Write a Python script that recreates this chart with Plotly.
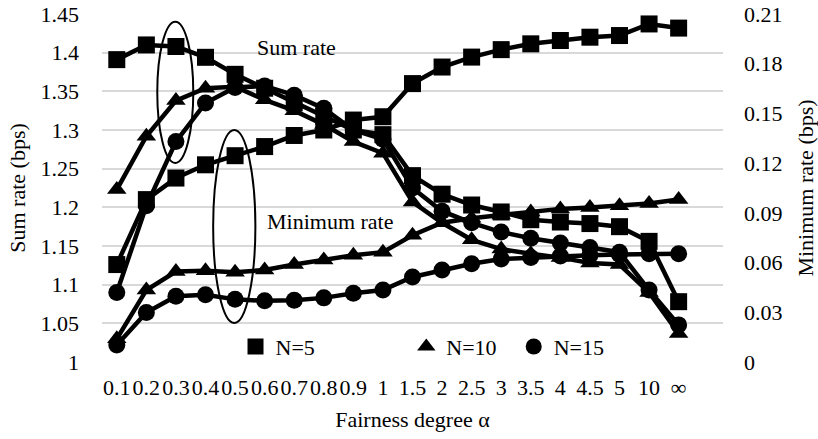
import plotly.graph_objects as go

# Fairness degree alpha (categorical x axis)
alpha_labels = ["0.1", "0.2", "0.3", "0.4", "0.5", "0.6", "0.7", "0.8", "0.9", "1",
                "1.5", "2", "2.5", "3", "3.5", "4", "4.5", "5", "10", "∞"]

# Sum rate (bps), left axis
sum_rate_n5 = [1.391, 1.410, 1.408, 1.394, 1.372, 1.354, 1.335, 1.318, 1.300, 1.294,
               1.241, 1.217, 1.203, 1.194, 1.184, 1.181, 1.179, 1.175, 1.156, 1.078]
sum_rate_n10 = [1.223, 1.292, 1.338, 1.354, 1.356, 1.339, 1.325, 1.307, 1.285, 1.270,
                1.207, 1.180, 1.158, 1.146, 1.140, 1.135, 1.128, 1.126, 1.090, 1.037]
sum_rate_n15 = [1.090, 1.202, 1.285, 1.335, 1.355, 1.357, 1.345, 1.328, 1.300, 1.288,
                1.225, 1.195, 1.180, 1.168, 1.160, 1.154, 1.148, 1.142, 1.093, 1.048]

# Minimum rate (bps), right axis
min_rate_n5 = [0.0588, 0.0980, 0.1110, 0.1190, 0.1245, 0.1300, 0.1367, 0.1400, 0.1460, 0.1480,
               0.1680, 0.1780, 0.1840, 0.1885, 0.1920, 0.1940, 0.1960, 0.1970, 0.2040, 0.2015]
min_rate_n10 = [0.0140, 0.0434, 0.0546, 0.0551, 0.0541, 0.0555, 0.0588, 0.0616, 0.0644, 0.0663,
                0.0765, 0.0840, 0.0868, 0.0887, 0.0905, 0.0924, 0.0933, 0.0943, 0.0957, 0.0980]
min_rate_n15 = [0.0103, 0.0299, 0.0397, 0.0406, 0.0378, 0.0369, 0.0373, 0.0387, 0.0415, 0.0434,
                0.0513, 0.0555, 0.0593, 0.0621, 0.0630, 0.0639, 0.0644, 0.0649, 0.0653, 0.0653]

left_ticks = [1, 1.05, 1.1, 1.15, 1.2, 1.25, 1.3, 1.35, 1.4, 1.45]
left_tick_text = ["1", "1.05", "1.1", "1.15", "1.2", "1.25", "1.3", "1.35", "1.4", "1.45"]
right_ticks = [0, 0.03, 0.06, 0.09, 0.12, 0.15, 0.18, 0.21]
right_tick_text = ["0", "0.03", "0.06", "0.09", "0.12", "0.15", "0.18", "0.21"]

FONT = "Liberation Serif"
FS = 22
LINE_W = 4.5
MSIZE = 17

series = [
    ("N=5", "square", sum_rate_n5, min_rate_n5),
    ("N=10", "triangle-up", sum_rate_n10, min_rate_n10),
    ("N=15", "circle", sum_rate_n15, min_rate_n15),
]

fig = go.Figure()

for name, sym, s_vals, m_vals in series:
    fig.add_trace(go.Scatter(
        x=alpha_labels, y=s_vals, mode="lines+markers", name=name,
        line=dict(color="black", width=LINE_W),
        marker=dict(symbol=sym, size=MSIZE, color="black"),
        showlegend=False, yaxis="y", cliponaxis=False,
    ))
for name, sym, s_vals, m_vals in series:
    fig.add_trace(go.Scatter(
        x=alpha_labels, y=m_vals, mode="lines+markers", name=name,
        line=dict(color="black", width=LINE_W),
        marker=dict(symbol=sym, size=MSIZE, color="black"),
        showlegend=False, yaxis="y2", cliponaxis=False,
    ))

# legend keys (marker only), one legend per entry
legend_names = ["legend", "legend2", "legend3"]
legend_x = [0.215, 0.49, 0.663]
for (name, sym, _, _), lg in zip(series, legend_names):
    fig.add_trace(go.Scatter(
        x=[None], y=[None], mode="markers", name=name,
        marker=dict(symbol=sym, size=MSIZE, color="black"),
        showlegend=True, legend=lg,
    ))

legend_common = dict(orientation="h", yanchor="middle", y=0.044, xanchor="left",
                     bgcolor="rgba(0,0,0,0)", borderwidth=0,
                     font=dict(family=FONT, size=FS, color="black"),
                     itemwidth=30)
layout_legends = {lg: dict(legend_common, x=lx) for lg, lx in zip(legend_names, legend_x)}

fig.update_layout(
    width=818, height=439,
    margin=dict(l=102, r=95, t=14, b=77),
    paper_bgcolor="white", plot_bgcolor="white",
    font=dict(family=FONT, size=FS, color="black"),
    xaxis=dict(
        type="category", range=[-0.5, 20.5], automargin=False,
        showgrid=False, showline=False, zeroline=False,
        ticks="", ticklabelstandoff=10, tickangle=0,
        tickfont=dict(family=FONT, size=FS, color="black"),
        title=dict(text="Fairness degree α", standoff=12,
                   font=dict(family=FONT, size=FS, color="black")),
    ),
    yaxis=dict(
        range=[1, 1.45], tickvals=left_ticks, ticktext=left_tick_text, automargin=False,
        showgrid=True, gridcolor="#d9d9d9", gridwidth=1.5,
        showline=False, zeroline=False, ticks="", ticklabelstandoff=22,
        tickfont=dict(family=FONT, size=FS, color="black"),
        title=dict(text="Sum rate (bps)", standoff=8,
                   font=dict(family=FONT, size=FS, color="black")),
    ),
    yaxis2=dict(
        overlaying="y", side="right", automargin=False,
        range=[0, 0.21], tickvals=right_ticks, ticktext=right_tick_text,
        showgrid=False, showline=False, zeroline=False, ticks="", ticklabelstandoff=20,
        tickfont=dict(family=FONT, size=FS, color="black"),
        title=dict(text="Minimum rate (bps)", standoff=16,
                   font=dict(family=FONT, size=FS, color="black")),
    ),
    **layout_legends,
)

# ellipses grouping the two families of curves
fig.add_shape(type="circle", xref="paper", yref="paper",
              x0=0.089, x1=0.147, y0=0.572, y1=0.978,
              line=dict(color="black", width=2))
fig.add_shape(type="circle", xref="paper", yref="paper",
              x0=0.179, x1=0.247, y0=0.112, y1=0.667,
              line=dict(color="black", width=2))

fig.add_annotation(text="Sum rate", xref="paper", yref="paper", x=0.2467, y=0.9455,
                   showarrow=False, font=dict(family=FONT, size=FS, color="black"))
fig.add_annotation(text="Minimum rate", xref="paper", yref="paper", x=0.3675, y=0.4028,
                   showarrow=False, font=dict(family=FONT, size=FS, color="black"))

fig.write_html("out.html")
